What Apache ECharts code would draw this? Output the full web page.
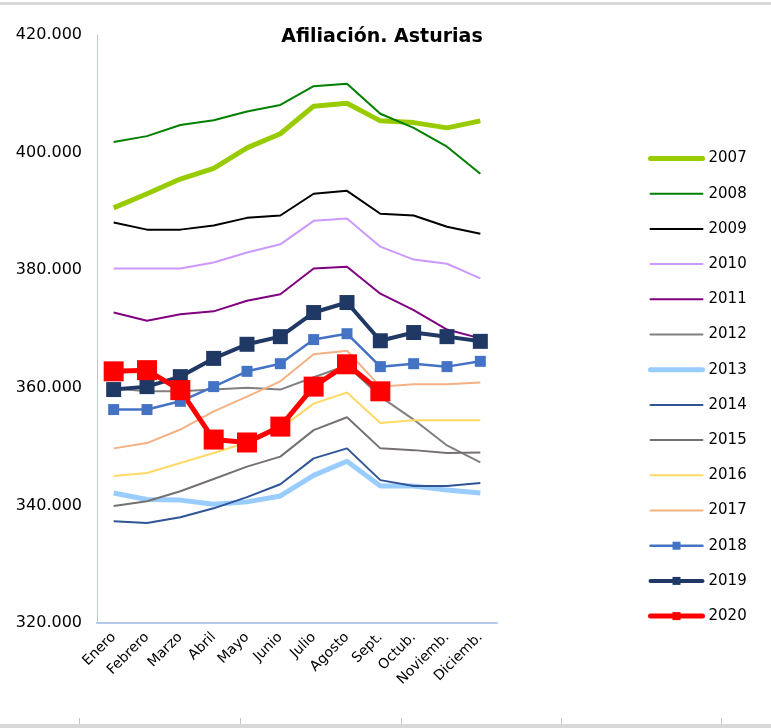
<!DOCTYPE html>
<html>
<head>
<meta charset="utf-8">
<script src="https://cdn.jsdelivr.net/npm/echarts@6/dist/echarts.min.js"></script>
<style>
  html, body { margin: 0; padding: 0; background: #fff; }
  #myChart { width: 771px; height: 728px; }
</style>
</head>
<body>
<div id="myChart"></div>
<script type="text/javascript">
// meses
var months = ['Enero', 'Febrero', 'Marzo', 'Abril', 'Mayo', 'Junio', 'Julio', 'Agosto', 'Sept.', 'Octub.', 'Noviemb.', 'Diciemb.'];
var yTicks = [320000, 340000, 360000, 380000, 400000, 420000];

// afiliados por año
var y2007 = [390600, 393000, 395500, 397300, 400800, 403200, 407900, 408400, 405400, 405100, 404200, 405400];
var y2008 = [401800, 402800, 404700, 405500, 407000, 408100, 411300, 411700, 406600, 404200, 401000, 396400];
var y2009 = [388100, 386900, 386900, 387600, 388900, 389300, 393000, 393500, 389600, 389300, 387400, 386200];
var y2010 = [380300, 380300, 380300, 381300, 383000, 384400, 388400, 388800, 384000, 381800, 381100, 378600];
var y2011 = [372800, 371400, 372500, 373000, 374800, 375900, 380300, 380600, 376000, 373200, 369900, 368400];
var y2012 = [359900, 359400, 359400, 359700, 360000, 359700, 361800, 363800, 358500, 354600, 350200, 347300];
var y2013 = [342100, 341000, 340900, 340200, 340600, 341600, 345100, 347500, 343300, 343300, 342600, 342100];
var y2014 = [337300, 337000, 338000, 339500, 341400, 343600, 348000, 349700, 344300, 343300, 343300, 343800];
var y2015 = [339900, 340700, 342400, 344500, 346600, 348300, 352800, 355000, 349700, 349400, 348900, 349000];
var y2016 = [345000, 345500, 347200, 348900, 350700, 353100, 357300, 359200, 354000, 354500, 354500, 354500];
var y2017 = [349700, 350600, 352900, 356000, 358500, 361100, 365700, 366300, 360200, 360600, 360600, 360900];
var y2018 = [356300, 356300, 357700, 360200, 362800, 364100, 368200, 369200, 363600, 364100, 363600, 364500];
var y2019 = [359700, 360200, 361900, 365000, 367400, 368700, 372800, 374500, 368000, 369400, 368700, 367900];
var y2020 = [362800, 363000, 359600, 351200, 350700, 353400, 360200, 364000, 359400, null, null, null];

function fmt(v) {
	return String(v).replace(/\B(?=(\d{3})+(?!\d))/g, '.');
}

function linea(name, data, color, width, symbol, size) {
	return {
		name: name,
		type: 'line',
		data: data,
		symbol: symbol || 'none',
		symbolSize: size || 0,
		showSymbol: !!symbol,
		lineStyle: { color: color, width: width },
		itemStyle: { color: color },
		emphasis: { disabled: true },
		animation: false
	};
}

var series = [
	linea('2007', y2007, '#99cc00', 5),
	linea('2008', y2008, '#008000', 2),
	linea('2009', y2009, '#000000', 2),
	linea('2010', y2010, '#cc99ff', 2),
	linea('2011', y2011, '#800080', 2),
	linea('2012', y2012, '#808080', 2),
	linea('2013', y2013, '#99ccff', 5),
	linea('2014', y2014, '#2f5597', 2),
	linea('2015', y2015, '#767171', 2),
	linea('2016', y2016, '#ffd966', 2),
	linea('2017', y2017, '#f4b183', 2),
	linea('2018', y2018, '#4472c4', 2.5, 'rect', 11),
	linea('2019', y2019, '#203864', 4, 'rect', 15),
	linea('2020', y2020, '#ff0000', 5, 'rect', 20)
];

// leyenda: mismo grosor de línea, sin marcador para las series que no lo tienen
var legendData = series.map(function (s) {
	var item = {
		name: s.name,
		lineStyle: { width: s.lineStyle.width, color: s.lineStyle.color, cap: 'round' }
	};
	if (s.symbol === 'none') {
		item.itemStyle = { opacity: 0 };
	}
	return item;
});

var myChart = echarts.init(document.getElementById('myChart'));
myChart.setOption({
	backgroundColor: '#fff',
	title: {
		text: 'Afiliación. Asturias',
		left: 382,
		textAlign: 'center',
		top: 28,
		padding: 0,
		textStyle: {
			color: '#000',
			fontFamily: 'DejaVu Sans',
			fontWeight: 'bold',
			fontSize: 19
		}
	},
	legend: {
		orient: 'vertical',
		left: 648,
		top: 151,
		padding: 0,
		itemWidth: 52,
		itemHeight: 10,
		itemGap: 20.2,
		textStyle: {
			color: '#000',
			fontFamily: 'DejaVu Sans',
			fontSize: 15,
			padding: [0, 0, 0, 1]
		},
		data: legendData
	},
	grid: {
		left: 97,
		right: 274,
		top: 35,
		bottom: 105
	},
	xAxis: {
		type: 'category',
		data: months,
		boundaryGap: true,
		axisLine: { lineStyle: { color: '#b4c7e7', width: 2 } },
		axisTick: { show: false },
		axisLabel: {
			rotate: 45,
			interval: 0,
			margin: 12,
			color: '#000',
			fontFamily: 'DejaVu Sans',
			fontSize: 14
		},
		splitLine: { show: false }
	},
	yAxis: {
		type: 'value',
		min: yTicks[0],
		max: yTicks[yTicks.length - 1],
		interval: 20000,
		axisLine: { show: true, lineStyle: { color: '#b4c7e7', width: 1 } },
		axisTick: { show: false },
		splitLine: { show: false },
		axisLabel: {
			margin: 15,
			color: '#000',
			fontFamily: 'DejaVu Sans',
			fontSize: 16,
			formatter: function (v) { return fmt(v); }
		}
	},
	graphic: [
		{ type: 'rect', shape: { x: 0, y: 2, width: 771, height: 3 }, style: { fill: '#d9d9d9' }, silent: true },
		{ type: 'rect', shape: { x: 0, y: 724, width: 771, height: 4 }, style: { fill: '#d9d9d9' }, silent: true },
		{ type: 'rect', shape: { x: 79, y: 718, width: 1, height: 6 }, style: { fill: '#c8c8c8' }, silent: true },
		{ type: 'rect', shape: { x: 240, y: 718, width: 1, height: 6 }, style: { fill: '#c8c8c8' }, silent: true },
		{ type: 'rect', shape: { x: 401, y: 718, width: 1, height: 6 }, style: { fill: '#c8c8c8' }, silent: true },
		{ type: 'rect', shape: { x: 561, y: 718, width: 1, height: 6 }, style: { fill: '#c8c8c8' }, silent: true },
		{ type: 'rect', shape: { x: 721, y: 718, width: 1, height: 6 }, style: { fill: '#c8c8c8' }, silent: true }
	],
	series: series
});
</script>
</body>
</html>
